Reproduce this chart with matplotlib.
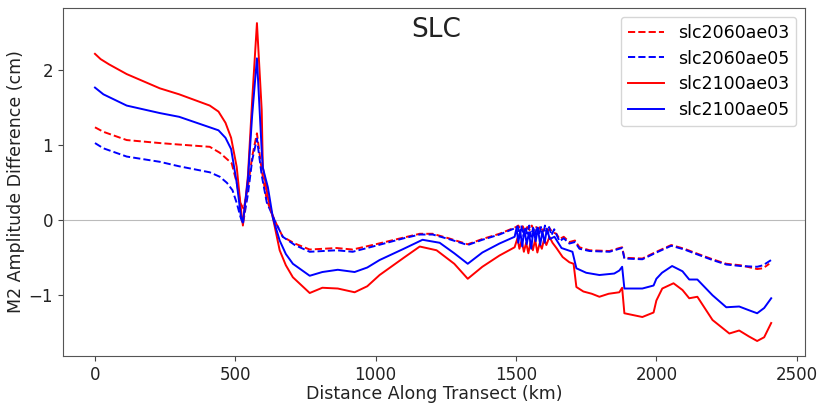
import matplotlib
matplotlib.use("Agg")
import matplotlib.pyplot as plt

# ---------------- data ----------------
# slc2100ae03 (red solid)
x_r100 = [0, 20, 50, 113, 231, 300, 409, 440, 465, 485, 505, 520, 527, 545, 560, 577,
          594, 598, 616, 634, 658, 680, 705, 765, 810, 865, 925, 970, 1014, 1100, 1157,
          1217, 1280, 1328, 1380, 1441, 1495,
          1505, 1512, 1520, 1528, 1536, 1544, 1552, 1560, 1568, 1576, 1584, 1592, 1600,
          1608, 1619, 1630, 1644, 1666, 1690, 1705, 1715, 1740, 1770, 1797, 1830, 1868,
          1878, 1886, 1950, 1990, 2000, 2021, 2061, 2093, 2117, 2146, 2200, 2260, 2295,
          2330, 2359, 2384, 2409]
y_r100 = [2.22, 2.15, 2.08, 1.95, 1.76, 1.68, 1.53, 1.45, 1.30, 1.10, 0.71, 0.15, -0.07, 0.60, 1.60, 2.63,
          1.47, 0.71, 0.31, 0.03, -0.40, -0.60, -0.76, -0.97, -0.90, -0.91, -0.96, -0.88, -0.73, -0.50, -0.35,
          -0.40, -0.58, -0.78, -0.62, -0.47, -0.36,
          -0.24, -0.38, -0.27, -0.42, -0.30, -0.44, -0.28, -0.40, -0.26, -0.43, -0.31, -0.38, -0.25,
          -0.33, -0.22, -0.30, -0.37, -0.49, -0.56, -0.58, -0.89, -0.95, -0.98, -1.02, -0.98, -0.96,
          -0.90, -1.24, -1.29, -1.23, -1.07, -0.91, -0.84, -0.93, -1.04, -1.02, -1.33, -1.51, -1.47,
          -1.55, -1.61, -1.56, -1.37]

# slc2100ae05 (blue solid)
x_b100 = [0, 30, 113, 231, 300, 409, 440, 465, 485, 505, 520, 527, 545, 560, 577,
          594, 598, 616, 634, 658, 680, 705, 765, 810, 865, 925, 970, 1014, 1100, 1167,
          1228, 1280, 1328, 1380, 1441, 1495,
          1502, 1508, 1515, 1522, 1530, 1538, 1546, 1554, 1562, 1570, 1578, 1586, 1594,
          1602, 1610, 1620, 1637, 1662, 1701, 1715, 1750, 1797, 1850, 1868, 1878, 1886,
          1950, 1990, 2000, 2020, 2056, 2093, 2117, 2146, 2200, 2249, 2295, 2330, 2359,
          2384, 2409]
y_b100 = [1.77, 1.68, 1.53, 1.43, 1.38, 1.24, 1.20, 1.10, 0.95, 0.50, 0.05, -0.03, 0.55, 1.40, 2.16,
          0.93, 0.70, 0.44, 0.03, -0.27, -0.45, -0.58, -0.74, -0.69, -0.66, -0.69, -0.63, -0.53, -0.38, -0.26,
          -0.30, -0.44, -0.58, -0.43, -0.31, -0.22,
          -0.10, -0.30, -0.14, -0.35, -0.12, -0.32, -0.16, -0.38, -0.12, -0.28, -0.10, -0.33, -0.15,
          -0.30, -0.11, -0.25, -0.22, -0.37, -0.42, -0.64, -0.70, -0.73, -0.71, -0.67, -0.62, -0.91,
          -0.91, -0.87, -0.78, -0.70, -0.61, -0.68, -0.79, -0.79, -1.00, -1.16, -1.15, -1.20, -1.24,
          -1.17, -1.04]

# slc2060ae03 (red dashed)
x_r60 = [0, 30, 113, 231, 300, 409, 445, 487, 505, 518, 530, 545, 560, 577,
         594, 612, 640, 669, 712, 765, 861, 918, 1000, 1100, 1157, 1203, 1260, 1328,
         1380, 1441, 1500,
         1508, 1516, 1524, 1532, 1540, 1548, 1556, 1564, 1572, 1580, 1588, 1596, 1604,
         1612, 1620, 1630, 1644, 1655, 1670, 1690, 1710, 1726, 1762, 1833, 1868, 1878,
         1886, 1950, 2000, 2053, 2100, 2142, 2200, 2249, 2300, 2359, 2380, 2402]
y_r60 = [1.24, 1.18, 1.07, 1.03, 1.01, 0.98, 0.90, 0.76, 0.50, 0.23, 0.15, 0.45, 0.85, 1.16,
         0.67, 0.27, 0.00, -0.22, -0.31, -0.39, -0.37, -0.39, -0.32, -0.23, -0.18, -0.18, -0.24, -0.32,
         -0.25, -0.18, -0.09,
         -0.07, -0.12, -0.08, -0.15, -0.09, -0.13, -0.07, -0.14, -0.09, -0.12, -0.08, -0.15, -0.10,
         -0.14, -0.11, -0.16, -0.18, -0.25, -0.22, -0.29, -0.27, -0.36, -0.40, -0.41, -0.37, -0.36,
         -0.50, -0.51, -0.42, -0.33, -0.38, -0.44, -0.52, -0.58, -0.60, -0.65, -0.64, -0.58]

# slc2060ae05 (blue dashed)
x_b60 = [0, 30, 113, 231, 300, 409, 445, 470, 490, 505, 518, 527, 545, 560, 577,
         594, 612, 640, 669, 712, 765, 861, 918, 1000, 1100, 1157, 1203, 1260, 1328,
         1380, 1441, 1500,
         1506, 1512, 1519, 1526, 1533, 1540, 1547, 1554, 1561, 1568, 1575, 1582, 1589,
         1596, 1603, 1610, 1618, 1626, 1636, 1644, 1655, 1670, 1690, 1710, 1726, 1762,
         1833, 1868, 1878, 1886, 1950, 2000, 2053, 2100, 2142, 2200, 2249, 2300, 2359,
         2380, 2409]
y_b60 = [1.03, 0.96, 0.85, 0.78, 0.72, 0.64, 0.58, 0.50, 0.40, 0.23, 0.05, -0.05, 0.35, 0.80, 1.09,
         0.60, 0.24, 0.00, -0.22, -0.33, -0.42, -0.40, -0.42, -0.34, -0.24, -0.19, -0.19, -0.25, -0.33,
         -0.26, -0.19, -0.10,
         -0.08, -0.20, -0.07, -0.21, -0.09, -0.18, -0.07, -0.22, -0.10, -0.19, -0.08, -0.20, -0.09,
         -0.21, -0.07, -0.18, -0.09, -0.20, -0.12, -0.19, -0.28, -0.24, -0.31, -0.29, -0.38, -0.41,
         -0.42, -0.38, -0.37, -0.51, -0.52, -0.43, -0.34, -0.39, -0.45, -0.53, -0.59, -0.61, -0.62,
         -0.60, -0.53]

labels = ["slc2060ae03", "slc2060ae05", "slc2100ae03", "slc2100ae05"]
x_ticks = [0, 500, 1000, 1500, 2000, 2500]
y_ticks = [-1, 0, 1, 2]

# ---------------- plot ----------------
fig = plt.figure(figsize=(8.21, 4.05), dpi=100)
ax = fig.add_axes([0.0767, 0.121, 0.904, 0.859])

ax.axhline(0, color="#bbbbbb", lw=0.8, zorder=0)
ax.plot(x_r60, y_r60, color="red", ls="--", lw=1.4, label=labels[0])
ax.plot(x_b60, y_b60, color="blue", ls="--", lw=1.4, label=labels[1])
ax.plot(x_r100, y_r100, color="red", ls="-", lw=1.4, label=labels[2])
ax.plot(x_b100, y_b100, color="blue", ls="-", lw=1.4, label=labels[3])

ax.set_xticks(x_ticks)
ax.set_yticks(y_ticks)
ax.set_xlim(-114, 2530)
ax.set_ylim(-1.81, 2.83)
ax.tick_params(labelsize=12, color="#444444", labelcolor="#222222")
for s in ax.spines.values():
    s.set_color("#555555")

ax.set_xlabel("Distance Along Transect (km)", fontsize=12.5, color="#222222", labelpad=1)
ax.set_ylabel("M2 Amplitude Difference (cm)", fontsize=12.5, color="#222222", labelpad=3)
ax.text(0.503, 0.975, "SLC", transform=ax.transAxes, ha="center", va="top",
        fontsize=19, color="#222222")

ax.legend(loc="upper right", fontsize=12.5, handlelength=2.1, borderaxespad=0.5,
          labelspacing=0.45)

fig.savefig("out.png", dpi=100)
